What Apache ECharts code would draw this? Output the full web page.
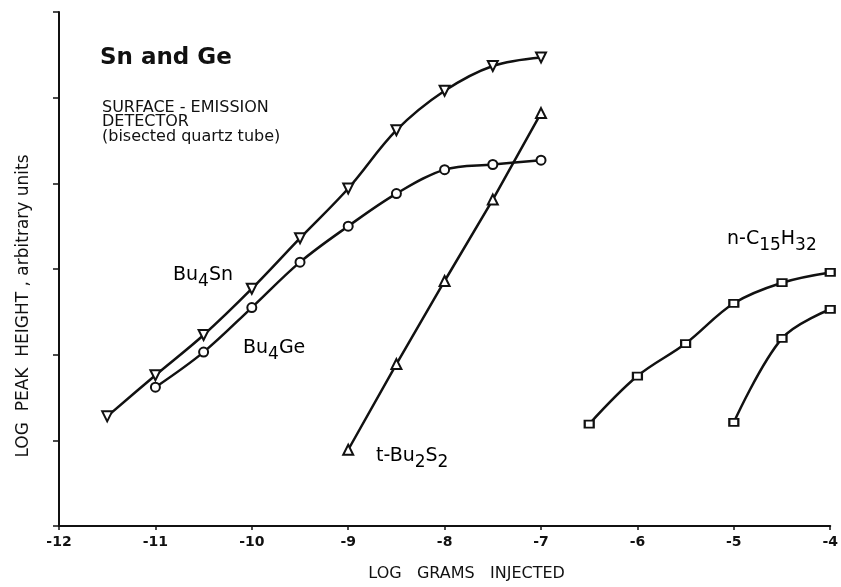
<!DOCTYPE html>
<html>
<head>
<meta charset="utf-8">
<script src="https://cdn.jsdelivr.net/npm/echarts@6/dist/echarts.min.js"></script>
<style>
  html, body { margin: 0; padding: 0; background: #fff; }
  #main { width: 841px; height: 587px; }
</style>
</head>
<body>
<div id="main"></div>
<script>
// x = log grams injected, y = log peak height (arbitrary units)
const snX = [-11.5, -11, -10.5, -10, -9.5, -9, -8.5, -8, -7.5, -7];
const snY = [1.28, 1.76, 2.23, 2.77, 3.36, 3.94, 4.62, 5.08, 5.37, 5.47];
const geX = [-11, -10.5, -10, -9.5, -9, -8.5, -8, -7.5, -7];
const geY = [1.62, 2.03, 2.55, 3.08, 3.50, 3.88, 4.16, 4.22, 4.27];
const s2X = [-9, -8.5, -8, -7.5, -7];
const s2Y = [0.89, 1.89, 2.86, 3.81, 4.82];
const c15aX = [-6.5, -6, -5.5, -5, -4.5, -4];
const c15aY = [1.19, 1.75, 2.13, 2.60, 2.84, 2.96];
const c15bX = [-5, -4.5, -4];
const c15bY = [1.21, 2.19, 2.53];
const xTicks = [-12, -11, -10, -9, -8, -7, -6, -5, -4];

const FONT = '"DejaVu Sans", sans-serif';
const pairs = (xs, ys) => xs.map((x, i) => [x, ys[i]]);

// rich styles for labels with subscripts
const richSub = {
  a: { fontFamily: FONT, fontSize: 19, lineHeight: 20, verticalAlign: 'top', color: '#111' },
  s: { fontFamily: FONT, fontSize: 17, lineHeight: 20, verticalAlign: 'top', padding: [7, 0, 0, 0], color: '#111' }
};

function lbl(x, y, text, font) {
  return {
    type: 'text', x: x, y: y,
    style: { text: text, fill: '#111', font: (font || '16px ') + FONT, align: 'left', verticalAlign: 'middle' }
  };
}

function line(name, xs, ys, symbol, size, smooth, rot) {
  return {
    name: name,
    type: 'line',
    data: pairs(xs, ys),
    smooth: smooth,
    symbol: symbol,
    symbolSize: size,
    symbolRotate: rot || 0,
    showAllSymbol: true,
    clip: false,
    lineStyle: { color: '#111', width: 2.5 },
    itemStyle: { color: '#111', borderWidth: 1.6 },
    emphasis: { disabled: true },
    z: 3
  };
}

const myChart = echarts.init(document.getElementById('main'));
myChart.setOption({
  animation: false,
  backgroundColor: '#fff',
  grid: { left: 59, right: 6, top: 12, bottom: 51 },
  xAxis: {
    type: 'value',
    min: -12, max: -4, interval: 1,
    axisLine: { lineStyle: { color: '#111', width: 2 } },
    axisTick: { length: 4, lineStyle: { color: '#111', width: 1.5 } },
    splitLine: { show: false },
    axisLabel: {
      margin: 9, color: '#111', fontFamily: FONT, fontSize: 14, fontWeight: 'bold',
      formatter: v => xTicks.includes(v) ? String(v) : ''
    },
    name: 'LOG   GRAMS   INJECTED',
    nameLocation: 'middle',
    nameGap: 40,
    nameTextStyle: { color: '#111', fontFamily: FONT, fontSize: 16, padding: [0, 0, 0, 44] }
  },
  yAxis: {
    type: 'value',
    min: 0, max: 6, interval: 1,
    axisLine: { show: true, lineStyle: { color: '#111', width: 2 } },
    axisTick: { show: true, length: 6, lineStyle: { color: '#111', width: 1.5 } },
    axisLabel: { show: false },
    splitLine: { show: false }
  },
  series: [
    line('Bu4Sn', snX, snY, 'emptyTriangle', 10, 0.35, 180),
    line('Bu4Ge', geX, geY, 'emptyCircle', 9, 0.35),
    line('t-Bu2S2', s2X, s2Y, 'emptyTriangle', 10, false),
    line('n-C15H32 a', c15aX, c15aY, 'emptyRect', [9, 7], 0.35),
    line('n-C15H32 b', c15bX, c15bY, 'emptyRect', [9, 7], 0.35)
  ],
  graphic: [
    lbl(100, 58, 'Sn and Ge', 'bold 23px '),
    lbl(102, 108, 'SURFACE - EMISSION'),
    lbl(102, 122, 'DETECTOR'),
    lbl(102, 137, '(bisected quartz tube)'),
    { type: 'text', x: 173, y: 276, style: { text: '{a|Bu}{s|4}{a|Sn}', rich: richSub, align: 'left', verticalAlign: 'middle' } },
    { type: 'text', x: 243, y: 349, style: { text: '{a|Bu}{s|4}{a|Ge}', rich: richSub, align: 'left', verticalAlign: 'middle' } },
    { type: 'text', x: 376, y: 457, style: { text: '{a|t-Bu}{s|2}{a|S}{s|2}', rich: richSub, align: 'left', verticalAlign: 'middle' } },
    { type: 'text', x: 727, y: 240, style: { text: '{a|n-C}{s|15}{a|H}{s|32}', rich: richSub, align: 'left', verticalAlign: 'middle' } },
    {
      type: 'text', x: 24, y: 306, rotation: Math.PI / 2,
      style: { text: 'LOG  PEAK  HEIGHT , arbitrary units', fill: '#111', font: '17px ' + FONT, align: 'center', verticalAlign: 'middle' }
    }
  ]
});
</script>
</body>
</html>
